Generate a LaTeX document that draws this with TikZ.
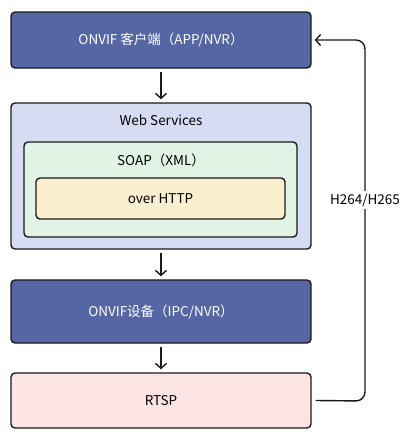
\documentclass[tikz,border=0pt]{standalone}
\usepackage{fontspec}
\setmainfont{Noto Sans CJK SC}
\usetikzlibrary{arrows.meta}
\definecolor{cblue}{HTML}{5566A5}
\definecolor{clav}{HTML}{D6DCF3}
\definecolor{cgreen}{HTML}{E0F3E4}
\definecolor{cyellow}{HTML}{FCEFCF}
\definecolor{cpink}{HTML}{FCE4E4}
\definecolor{cline}{HTML}{1A1A1A}
\begin{document}
\begin{tikzpicture}[x=1pt,y=-1pt,font=\fontsize{13.5}{16}\selectfont]
\useasboundingbox (0,0) rectangle (414,440);
\tikzset{
  box/.style={draw=cline, line width=1.4pt, rounded corners=4pt, inner sep=0pt},
  arr/.style={draw=cline, line width=1.4pt, -{Straight Barb[length=5pt,width=11pt]}},
  lbl/.style={inner sep=1pt}
}
\node[box, fill=cblue, text=white, minimum width=300pt, minimum height=56pt] (client) at (161,40) {ONVIF 客户端（APP/NVR）};
\node[box, fill=clav, minimum width=300pt, minimum height=146pt] (ws) at (161,176) {};
\node[lbl] (wslabel) at (161,120) {Web Services};
\node[box, fill=cgreen, minimum width=273pt, minimum height=95pt] (soap) at (160.5,189.5) {};
\node[lbl] (soaplabel) at (161,160) {SOAP（XML）};
\node[box, fill=cyellow, minimum width=249pt, minimum height=41pt] (http) at (160.5,198.5) {over HTTP};
\node[box, fill=cblue, text=white, minimum width=300pt, minimum height=63pt] (device) at (161,311.5) {ONVIF设备（IPC/NVR）};
\node[box, fill=cpink, minimum width=300pt, minimum height=55pt] (rtsp) at (161,400.5) {RTSP};
\draw[arr, shorten <=3pt, shorten >=3pt] (client) -- (ws);
\draw[arr, shorten <=3pt, shorten >=3pt] (ws) -- (device);
\draw[arr, shorten <=3pt, shorten >=3pt] (device) -- (rtsp);
\coordinate (tb) at (365,401);
\coordinate (tt) at (365,40);
\draw[arr, rounded corners=9pt] ([xshift=4pt]rtsp.east) -- (tb) -- (tt) -- ([xshift=3pt]client.east);
\node[fill=white, inner sep=2pt] (h264) at (365,200) {H264/H265};
\end{tikzpicture}
\end{document}
